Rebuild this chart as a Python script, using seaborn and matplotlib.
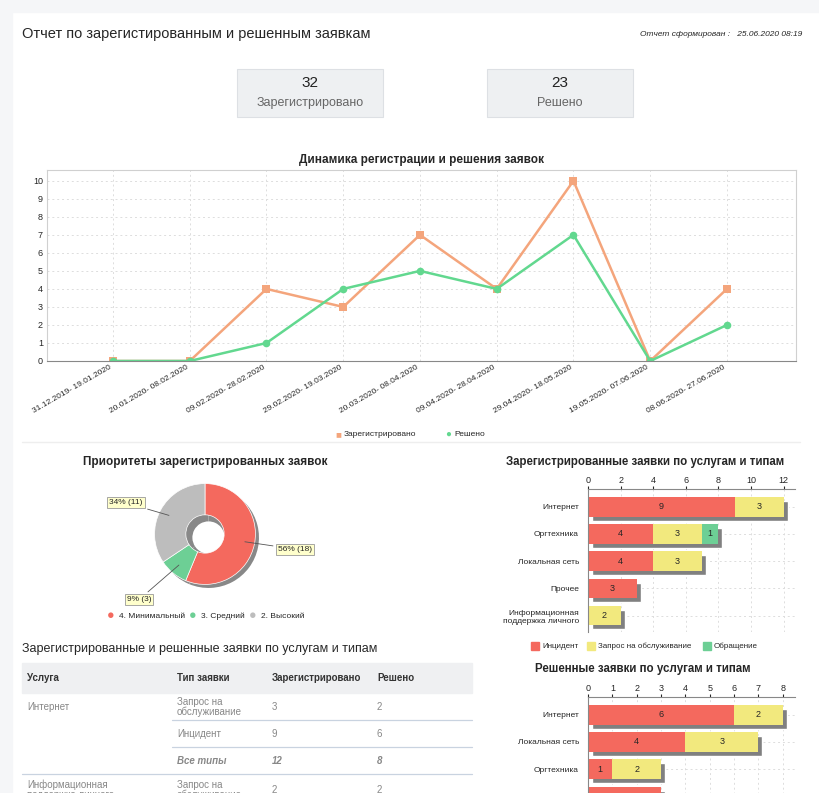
import matplotlib
matplotlib.use('Agg')
import matplotlib.pyplot as plt
import matplotlib.transforms as mtrans
from matplotlib.patches import Rectangle
import seaborn as sns
import pandas as pd
import numpy as np

sns.set_style('white')
plt.rcParams['font.family'] = ['Liberation Sans', 'DejaVu Sans']

# ---- data
periods = ['31.12.2019- 19.01.2020', '20.01.2020- 08.02.2020', '09.02.2020- 28.02.2020',
           '29.02.2020- 19.03.2020', '20.03.2020- 08.04.2020', '09.04.2020- 28.04.2020',
           '29.04.2020- 18.05.2020', '19.05.2020- 07.06.2020', '08.06.2020- 27.06.2020']
registered = [0, 0, 4, 3, 7, 4, 10, 0, 4]
resolved = [0, 0, 1, 4, 5, 4, 7, 0, 2]

prio_labels = ['4. Минимальный', '3. Средний', '2. Высокий']
prio_values = [18, 3, 11]

types = ['Инцидент', 'Запрос на обслуживание', 'Обращение']
reg_services = ['Интернет', 'Оргтехника', 'Локальная сеть', 'Прочее', 'Информационная\nподдержка личного']
reg_incident = [9, 4, 4, 3, 0]
reg_request = [3, 3, 3, 0, 2]
reg_appeal = [0, 1, 0, 0, 0]

res_services = ['Интернет', 'Локальная сеть', 'Оргтехника', 'Прочее', 'Информационная\nподдержка личного']
res_incident = [6, 4, 1, 3, 0]
res_request = [2, 3, 2, 0, 2]
res_appeal = [0, 0, 0, 0, 0]

table_rows = [
    ['Интернет', 'Запрос на\nобслуживание', '3', '2'],
    ['', 'Инцидент', '9', '6'],
    ['', 'Все типы', '12', '8'],
    ['Информационная\nподдержка личного', 'Запрос на\nобслуживание', '2', '2'],
]

RED, YEL, GRN, GRY = '#f4695e', '#f2e97e', '#6dcf95', '#bdbdbd'
W, H = 820, 793
fig = plt.figure(figsize=(8.2, 7.93), dpi=100, facecolor='white')


def px_axes(x, y, w, h):
    return fig.add_axes([x / W, 1 - (y + h) / H, w / W, h / H])


def ftext(x, y, s, **kw):
    fig.text(x / W, 1 - y / H, s, **kw)


# page background strips
fig.patches.append(Rectangle((0, 0), 12 / W, 1, transform=fig.transFigure, color='#f5f6f8', zorder=-5))
fig.patches.append(Rectangle((0, 1 - 12 / H), 1, 12 / H, transform=fig.transFigure, color='#f5f6f8', zorder=-5))

ftext(22, 34, 'Отчет по зарегистированным и решенным заявкам', fontsize=10.5, va='center')
ftext(802, 35, 'Отчет сформирован :   25.06.2020 08:19', fontsize=6, style='italic', ha='right', va='center')

for bx, num, lab in [(237, '32', 'Зарегистрировано'), (487, '23', 'Решено')]:
    fig.patches.append(Rectangle((bx / W, 1 - 117 / H), 146 / W, 48 / H, transform=fig.transFigure,
                                 facecolor='#eef0f2', edgecolor='#dde0e4', lw=0.8))
    ftext(bx + 73, 83, num, fontsize=11, ha='center', va='center', color='#222222')
    ftext(bx + 73, 103, lab, fontsize=9, ha='center', va='center', color='#666666')

# ---- line chart
ax = px_axes(47, 170, 749, 191)
df = pd.DataFrame({'x': list(range(9)) * 2, 'y': registered + resolved,
                   's': ['Зарегистрировано'] * 9 + ['Решено'] * 9})
sns.lineplot(data=df, x='x', y='y', hue='s', style='s', markers=['s', 'o'], dashes=False,
             palette=['#f4a57c', '#62d88f'], lw=1.8, markersize=5.5, markeredgewidth=0, ax=ax, legend=False)
ax.set_xlim(-0.86, 8.9)
ax.set_ylim(0, 10.6)
ax.set_yticks(range(11))
ax.set_xticks(range(9))
ax.set_xticklabels(periods, rotation=30, ha='right', fontsize=6)
ax.tick_params(axis='y', labelsize=6.5, length=0, pad=3)
ax.tick_params(axis='x', length=0, pad=2)
ax.set_xlabel('')
ax.set_ylabel('')
ax.grid(True, ls=(0, (2, 3)), color='#dddddd', lw=0.7)
for s in ax.spines.values():
    s.set_color('#d0d0d0')
ax.spines['bottom'].set_color('#888888')
ax.set_title('Динамика регистрации и решения заявок', fontsize=8.5, fontweight='bold', pad=5)
ftext(341, 434, '■', color='#f4a57c', fontsize=7, va='center', ha='right')
ftext(344, 434, 'Зарегистрировано', fontsize=6, va='center')
ftext(451, 434, '●', color='#62d88f', fontsize=7, va='center', ha='right')
ftext(454, 434, 'Решено', fontsize=6, va='center')
fig.lines.append(plt.Line2D([22 / W, 800 / W], [1 - 442 / H] * 2, transform=fig.transFigure, color='#eeeeee', lw=1))

# ---- donut
ax = px_axes(105, 476, 200, 116)
ax.set_aspect('equal')
ax.pie(prio_values, colors=['#888888'] * 3, startangle=90, counterclock=False, radius=1.0,
       center=(0.07, -0.07), wedgeprops=dict(width=0.68, lw=0))
ax.pie(prio_values, colors=[RED, GRN, GRY], startangle=90, counterclock=False, radius=1.0,
       wedgeprops=dict(width=0.62, edgecolor='white', lw=0.5))
ax.set_xlim(-1.9, 1.9)
ax.set_ylim(-1.15, 1.15)
total = sum(prio_values)
ang = 90
for v, (tx, ty) in zip(prio_values, [(1.45, -0.3), (-1.55, -1.3), (-1.9, 0.62)]):
    mid = np.deg2rad(ang - 360 * v / total / 2)
    ang -= 360 * v / total
    px, py = 0.75 * np.cos(mid), 0.75 * np.sin(mid)
    ax.annotate(f'{round(100 * v / total)}% ({v})', (px, py), (tx, ty), fontsize=6, va='center',
                arrowprops=dict(arrowstyle='-', color='#555555', lw=0.6),
                bbox=dict(boxstyle='square,pad=0.25', fc='#ffffcc', ec='#999999', lw=0.6))
ftext(205, 462, 'Приоритеты зарегистрированных заявок', fontsize=8.5, fontweight='bold', ha='center', va='center')
for lx, col, lab in [(111, RED, prio_labels[0]), (193, GRN, prio_labels[1]), (253, GRY, prio_labels[2])]:
    ftext(lx, 616, '●', color=col, fontsize=9, va='center', ha='center')
    ftext(lx + 8, 616, lab, fontsize=6, va='center')


# ---- stacked bars
def stacked(ax, services, inc, req, app, xmax, ticks):
    d = pd.DataFrame({'svc': services, 'a': inc, 'b': req, 'c': app})
    d['t1'] = d.a
    d['t2'] = d.a + d.b
    d['t3'] = d.a + d.b + d.c
    sns.barplot(data=d, y='svc', x='t3', color='#808080', width=0.72, ax=ax, saturation=1)
    off = mtrans.offset_copy(ax.transData, fig=fig, x=4, y=-4, units='dots')
    for p in ax.patches:
        p.set_transform(off)
    for col, c in [('t3', GRN), ('t2', YEL), ('t1', RED)]:
        sns.barplot(data=d, y='svc', x=col, color=c, width=0.72, ax=ax, saturation=1, linewidth=0)
    for i in range(len(d)):
        for lo, hi in [(0, d.a[i]), (d.a[i], d.t2[i]), (d.t2[i], d.t3[i])]:
            if hi - lo > 0:
                ax.text((lo + hi) / 2, i, str(int(hi - lo)), ha='center', va='center', fontsize=6.5)
    ax.set_xlim(0, xmax)
    ax.set_xticks(ticks)
    ax.xaxis.tick_top()
    ax.tick_params(axis='x', labelsize=6.5, length=2, pad=1)
    ax.tick_params(axis='y', labelsize=6, length=3, color='#888888')
    ax.set_xlabel('')
    ax.set_ylabel('')
    ax.grid(True, ls=(0, (2, 3)), color='#dddddd', lw=0.7)
    ax.set_axisbelow(True)
    for s in ['right', 'bottom']:
        ax.spines[s].set_visible(False)
    ax.spines['left'].set_color('#888888')
    ax.spines['top'].set_color('#888888')
    ax.set_ylim(4.6, -0.65)


ax = px_axes(588, 489, 207, 143)
stacked(ax, reg_services, reg_incident, reg_request, reg_appeal, 12.7, range(0, 13, 2))
ftext(645, 462, 'Зарегистрированные заявки по услугам и типам', fontsize=8.3, fontweight='bold',
      ha='center', va='center')
ax = px_axes(588, 697, 207, 143)
stacked(ax, res_services, res_incident, res_request, res_appeal, 8.5, range(0, 9))
ftext(643, 669, 'Решенные заявки по услугам и типам', fontsize=8.3, fontweight='bold',
      ha='center', va='center')
for lx, col, lab in [(535, RED, types[0]), (591, YEL, types[1]), (707, GRN, types[2])]:
    fig.patches.append(Rectangle(((lx - 4) / W, 1 - 650 / H), 8 / W, 8 / H, transform=fig.transFigure, color=col))
    ftext(lx + 7, 646, lab, fontsize=5.8, va='center')

# ---- table
ftext(22, 649, 'Зарегистрированные и решенные заявки по услугам и типам', fontsize=9, va='center')
fig.patches.append(Rectangle((22 / W, 1 - 693 / H), 450 / W, 30 / H, transform=fig.transFigure, color='#eff0f2'))
cols_x = [27, 177, 272, 377]
for x, h in zip(cols_x, ['Услуга', 'Тип заявки', 'Зарегистрировано', 'Решено']):
    ftext(x, 678, h, fontsize=7, va='center', fontweight='bold', color='#333333')
row_y = [707, 734, 761, 790]
for y, row in zip(row_y, table_rows):
    italic = row[1] == 'Все типы'
    for x, val in zip(cols_x, row):
        ftext(x, y, val, fontsize=7, va='center', color='#888888', linespacing=0.95,
              style='italic' if italic else 'normal', fontweight='bold' if italic else 'normal')
for y, x0 in [(720, 172), (747, 172), (774, 22)]:
    fig.lines.append(plt.Line2D([x0 / W, 472 / W], [1 - y / H] * 2, transform=fig.transFigure,
                                color='#c9d3e0', lw=0.9))

fig.savefig('out.png', dpi=100, facecolor='white')
